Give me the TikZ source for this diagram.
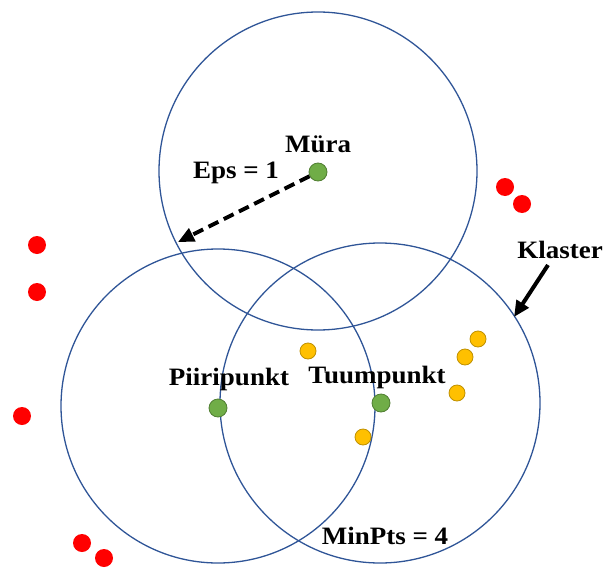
\documentclass[tikz,border=0pt]{standalone}
\usepackage{fontspec}
\setmainfont{Liberation Serif}
\usepackage{xcolor}
\usepackage{graphicx}
\usetikzlibrary{arrows.meta}

\definecolor{ringblue}{HTML}{2F5597}
\definecolor{ptgreen}{HTML}{70AD47}
\definecolor{ptgreendark}{HTML}{507E32}
\definecolor{ptyellow}{HTML}{FFC000}
\definecolor{ptyellowdark}{HTML}{BF9000}

\newcommand{\widetext}[1]{\scalebox{1.08}[1]{#1}}

\tikzset{
	ring/.style={draw=ringblue, line width=1.3pt},
	dot/.style={circle, minimum size=18pt, inner sep=0pt, line width=0.8pt},
	core/.style={dot, fill=ptgreen, draw=ptgreendark},
	noise/.style={dot, fill=red},
	member/.style={dot, minimum size=16pt, fill=ptyellow, draw=ptyellowdark},
	lbl/.style={font=\bfseries\fontsize{25}{29}\selectfont, inner sep=0pt, anchor=base},
}

\begin{document}
\begin{tikzpicture}[x=1pt, y=-1pt]
		\useasboundingbox (0,0) rectangle (604,567);
		
		\draw[ring] (318,171) circle[radius=159];
		\draw[ring] (218,406) circle[radius=157];
		\draw[ring] (380,403) circle[radius=160];
		
		\node[core] (mura) at (318,172) {};
		\node[core] (piiri) at (218,408) {};
		\node[core] (tuum) at (381,403) {};
		
		\foreach \px/\py [count=\i] in {505/187, 522/204, 37/245, 37/292, 22/416, 82/543, 104/558}{
			\node[noise] (noise\i) at (\px,\py) {};
		}
		
		\foreach \px/\py [count=\i] in {308/351, 478/339, 465/357, 457/393, 363/437}{
			\node[member] (member\i) at (\px,\py) {};
		}
		
		\node[lbl] (muralbl) at (318,152) {\widetext{Müra}};
		\node[lbl] (epslbl) at (236,178) {\widetext{Eps = 1}};
		\node[lbl] (klasterlbl) at (560,258) {\widetext{Klaster}};
		\node[lbl] (piirilbl) at (229,385) {\widetext{Piiripunkt}};
		\node[lbl] (tuumlbl) at (377,383) {\widetext{Tuumpunkt}};
		\node[lbl] (minptslbl) at (385,544) {\widetext{MinPts = 4}};
		
		\coordinate (epsend) at (178,242);
		\coordinate (klasterstart) at (548,265);
		\coordinate (klasterend) at (514,317);
		
		\draw[line width=4pt, dash pattern=on 11pt off 6pt, -{Triangle[length=16pt, width=14pt]}] (mura) -- (epsend);
		\draw[line width=4pt, -{Triangle[length=16pt, width=14pt]}] (klasterstart) -- (klasterend);
\end{tikzpicture}
\end{document}
